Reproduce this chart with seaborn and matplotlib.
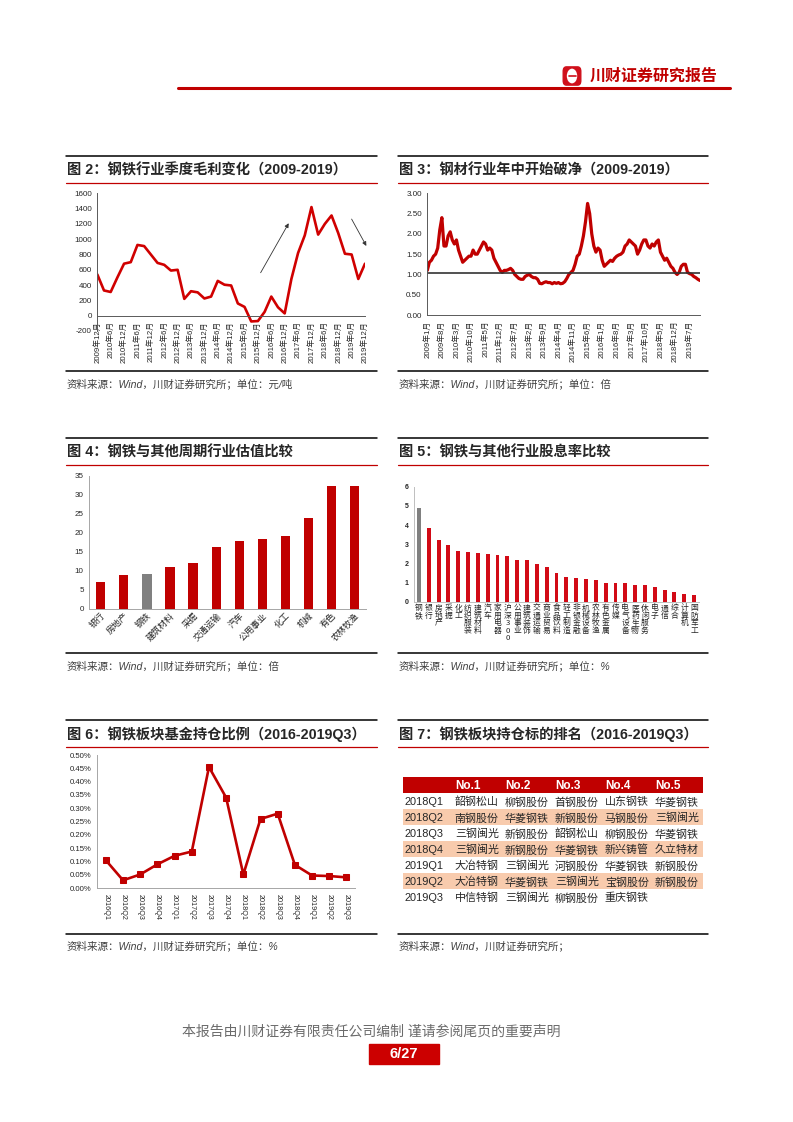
"""Steel sector report page: six panels recreated with seaborn/matplotlib."""

import numpy as np
import seaborn as sns
import matplotlib.pyplot as plt
from matplotlib.lines import Line2D
from matplotlib.patches import Rectangle, FancyBboxPatch, Circle
from matplotlib.ticker import FuncFormatter

W, H = 793, 1122
RED = '#C00000'

# ---- Figure 2: quarterly gross margin (yuan/ton), 2009Q4 - 2019Q4
margin = [540, 330, 310, 500, 680, 700, 925, 910, 800, 690,
          665, 590, 600, 220, 320, 305, 225, 250, 455, 405,
          395, 160, 115, -75, -70, 50, 250, 110, 30, 480,
          820, 1050, 1420, 1060, 1200, 1310, 1080, 810, 800, 480,
          680]
margin_labels = ['2009年12月', '2010年6月', '2010年12月', '2011年6月', '2011年12月',
                 '2012年6月', '2012年12月', '2013年6月', '2013年12月', '2014年6月',
                 '2014年12月', '2015年6月', '2015年12月', '2016年6月', '2016年12月',
                 '2017年6月', '2017年12月', '2018年6月', '2018年12月', '2019年6月',
                 '2019年12月']

# ---- Figure 3: steel PB, monthly 2009-01 .. 2019-12
pb = [1.10, 1.30, 1.35, 1.45, 1.50, 1.65, 2.10, 2.40, 1.70, 1.70,
      1.95, 2.05, 1.85, 1.75, 1.85, 1.60, 1.45, 1.30, 1.35, 1.40,
      1.45, 1.45, 1.60, 1.50, 1.50, 1.60, 1.70, 1.80, 1.75, 1.60,
      1.65, 1.60, 1.40, 1.30, 1.20, 1.10, 1.05, 1.10, 1.10, 1.12,
      1.15, 1.10, 1.00, 0.95, 0.90, 0.88, 0.88, 0.95, 0.98, 1.00,
      0.95, 0.92, 0.92, 0.88, 0.78, 0.77, 0.80, 0.82, 0.80, 0.80,
      0.77, 0.80, 0.78, 0.80, 0.77, 0.78, 0.82, 0.90, 1.00, 1.05,
      1.10, 1.25, 1.45, 1.50, 1.70, 1.95, 2.30, 2.75, 2.50, 2.00,
      1.70, 1.55, 1.65, 1.60, 1.35, 1.20, 1.25, 1.30, 1.35, 1.32,
      1.40, 1.45, 1.48, 1.50, 1.55, 1.70, 1.75, 1.85, 1.80, 1.75,
      1.70, 1.50, 1.60, 1.75, 1.85, 1.85, 1.70, 1.65, 1.75, 1.70,
      1.80, 1.85, 1.55, 1.45, 1.35, 1.40, 1.30, 1.20, 1.15, 1.05,
      1.00, 1.05, 1.20, 1.25, 1.25, 1.05, 1.02, 1.00, 0.95, 0.92,
      0.88, 0.85]
pb_labels = ['2009年1月', '2009年8月', '2010年3月', '2010年10月', '2011年5月',
             '2011年12月', '2012年7月', '2013年2月', '2013年9月', '2014年4月',
             '2014年11月', '2015年6月', '2016年1月', '2016年8月', '2017年3月',
             '2017年10月', '2018年5月', '2018年12月', '2019年7月']
pb_line = 1.04

# ---- Figure 4: PE of cyclical sectors
pe_sectors = ['银行', '房地产', '钢铁', '建筑材料', '采掘', '交通运输',
              '汽车', '公用事业', '化工', '机械', '有色', '农林牧渔']
pe_values = [7.0, 8.8, 9.1, 11.0, 12.1, 16.4, 17.8, 18.3, 19.1, 24.0, 32.4, 32.4]

# ---- Figure 5: dividend yield by sector (%)
dy_sectors = ['钢铁', '银行', '房地产', '采掘', '化工', '纺织服装', '建筑材料',
              '汽车', '家用电器', '沪深300', '公用事业', '建筑装饰', '交通运输',
              '商业贸易', '食品饮料', '轻工制造', '非银金融', '机械设备', '农林牧渔',
              '有色金属', '传媒', '电气设备', '医药生物', '休闲服务', '电子',
              '通信', '综合', '计算机', '国防军工']
dy_values = [4.90, 3.85, 3.20, 2.97, 2.63, 2.57, 2.53, 2.48, 2.42, 2.38,
             2.20, 2.15, 1.95, 1.80, 1.52, 1.28, 1.23, 1.18, 1.12, 1.00,
             1.00, 0.97, 0.85, 0.85, 0.75, 0.60, 0.50, 0.40, 0.35]

# ---- Figure 6: fund holding ratio (%)
fund_quarters = ['2016Q1', '2016Q2', '2016Q3', '2016Q4', '2017Q1', '2017Q2',
                 '2017Q3', '2017Q4', '2018Q1', '2018Q2', '2018Q3', '2018Q4',
                 '2019Q1', '2019Q2', '2019Q3']
fund_ratio = [0.105, 0.030, 0.052, 0.090, 0.122, 0.138, 0.455, 0.340,
              0.052, 0.260, 0.280, 0.088, 0.048, 0.046, 0.041]

# ---- Figure 7: top holdings table
rank_headers = ['No.1', 'No.2', 'No.3', 'No.4', 'No.5']
rank_quarters = ['2018Q1', '2018Q2', '2018Q3', '2018Q4', '2019Q1', '2019Q2', '2019Q3']
rank1 = ['韶钢松山', '南钢股份', '三钢闽光', '三钢闽光', '大冶特钢', '大冶特钢', '中信特钢']
rank2 = ['柳钢股份', '华菱钢铁', '新钢股份', '新钢股份', '三钢闽光', '华菱钢铁', '三钢闽光']
rank3 = ['首钢股份', '新钢股份', '韶钢松山', '华菱钢铁', '河钢股份', '三钢闽光', '柳钢股份']
rank4 = ['山东钢铁', '马钢股份', '柳钢股份', '新兴铸管', '华菱钢铁', '宝钢股份', '重庆钢铁']
rank5 = ['华菱钢铁', '三钢闽光', '华菱钢铁', '久立特材', '新钢股份', '新钢股份', '']

sns.set_theme(style="white")
plt.rcParams['font.family'] = ['Liberation Sans', 'Noto Sans CJK SC', 'DejaVu Sans']
plt.rcParams['axes.unicode_minus'] = False

fig = plt.figure(figsize=(W / 100, H / 100), dpi=100)


def add_ax(x0, y0, x1, y1):
    """Axes from page pixel box (top-left origin)."""
    ax = fig.add_axes([x0 / W, 1 - y1 / H, (x1 - x0) / W, (y1 - y0) / H])
    ax.patch.set_alpha(0)
    return ax


def hline(y, x0, x1, color, lw):
    fig.add_artist(Line2D([x0 / W, x1 / W], [1 - y / H] * 2, color=color, lw=lw))


def ftext(x, y, s, **kw):
    fig.text(x / W, 1 - y / H, s, **kw)


def panel_frame(x0, x1, y_top, y_bottom, title, source):
    hline(y_top, x0, x1, 'black', 1.1)
    ftext(x0 + 1, y_top + 14.5, title, fontsize=10.3, fontweight='bold', va='center')
    hline(y_top + 27, x0, x1, RED, 0.9)
    hline(y_bottom, x0, x1, 'black', 1.1)
    ftext(x0 + 1, y_bottom + 12.5, source, fontsize=7.6, style='italic',
          color='#404040', va='center')


def style_axes(ax, color='#595959'):
    for side in ['top', 'right']:
        ax.spines[side].set_visible(False)
    for side in ['left', 'bottom']:
        ax.spines[side].set_color(color)
        ax.spines[side].set_linewidth(0.7)
    ax.tick_params(length=2.5, width=0.6, color=color, direction='out', pad=1.5)
    ax.grid(False)


# ---------------- header / footer
hline(88, 178, 730, RED, 2.2)
fig.add_artist(FancyBboxPatch((564 / W, 1 - 84 / H), 16 / W, 16 / H,
                              boxstyle='round,pad=0.001,rounding_size=0.004',
                              transform=fig.transFigure, color='#D0101B'))
fig.add_artist(Circle((572 / W, 1 - 76 / H), 5.2 / W, transform=fig.transFigure,
                      facecolor='white', edgecolor='none'))
fig.add_artist(Line2D([568.5 / W, 575.5 / W], [1 - 76 / H] * 2, color='#D0101B', lw=1.2))
ftext(590, 76, '川财证券研究报告', fontsize=11.5, fontweight='bold', color=RED, va='center')

ftext(371.5, 1032, '本报告由川财证券有限责任公司编制 谨请参阅尾页的重要声明',
      fontsize=10, color='#6b6b6b', ha='center', va='center')
fig.add_artist(Rectangle((369 / W, 1 - 1064 / H), 70 / W, 20 / H,
                         transform=fig.transFigure, color='#CC0000'))
ftext(404, 1054, '6/27', fontsize=10.5, fontweight='bold', color='white',
      ha='center', va='center')

# ---------------- Figure 2
panel_frame(66, 377, 156, 371, '图 2：钢铁行业季度毛利变化（2009-2019）',
            '资料来源：Wind，川财证券研究所；单位：元/吨')
ax = add_ax(97.3, 193.3, 365, 331)
sns.lineplot(x=np.arange(len(margin)), y=margin, ax=ax, color='#D00000', lw=1.9)
ax.set_xlim(0, len(margin) - 1)
ax.set_ylim(-200, 1600)
ax.set_yticks(range(-200, 1601, 200))
style_axes(ax)
ax.spines['bottom'].set_position(('data', 0))
ax.set_xticks(range(0, len(margin), 2))
ax.set_xticklabels(margin_labels, rotation=90, fontsize=5.6)
ax.tick_params(axis='y', labelsize=5.8)
ax.annotate('', xy=(28.8, 1240), xytext=(24.2, 530), annotation_clip=False,
            arrowprops=dict(arrowstyle='-|>', color='#333333', lw=0.6, mutation_scale=6))
ax.annotate('', xy=(40.4, 880), xytext=(37.8, 1295), annotation_clip=False,
            arrowprops=dict(arrowstyle='-|>', color='#333333', lw=0.6, mutation_scale=6))

# ---------------- Figure 3
panel_frame(398, 708, 156, 371, '图 3：钢材行业年中开始破净（2009-2019）',
            '资料来源：Wind，川财证券研究所；单位：倍')
ax = add_ax(427.3, 193.3, 700, 315)
sns.lineplot(x=np.arange(len(pb)), y=pb, ax=ax, color=RED, lw=2.3)
ax.axhline(pb_line, color='#333333', lw=1.2)
ax.set_xlim(0, len(pb) - 1)
ax.set_ylim(0, 3)
ax.set_yticks(np.arange(0, 3.01, 0.5))
ax.yaxis.set_major_formatter(FuncFormatter(lambda v, p: f'{v:.2f}'))
style_axes(ax)
ax.set_xticks(range(0, len(pb), 7))
ax.set_xticklabels(pb_labels, rotation=90, fontsize=5.6)
ax.tick_params(axis='y', labelsize=5.8)

# ---------------- Figure 4
panel_frame(66, 377, 438, 653, '图 4：钢铁与其他周期行业估值比较',
            '资料来源：Wind，川财证券研究所；单位：倍')
ax = add_ax(89.3, 475.7, 366, 609)
pe_palette = {s: ('#808080' if s == '钢铁' else RED) for s in pe_sectors}
sns.barplot(x=pe_sectors, y=pe_values, hue=pe_sectors, palette=pe_palette,
            legend=False, width=0.4, ax=ax, linewidth=0, saturation=1)
ax.set_xlim(-0.5, len(pe_sectors) - 0.5)
ax.set_ylim(0, 35)
ax.set_yticks(range(0, 36, 5))
style_axes(ax, '#A6A6A6')
ax.set_xticks(np.arange(len(pe_sectors)) + 0.5, minor=True)
ax.tick_params(axis='x', which='major', length=0)
ax.tick_params(axis='x', which='minor', length=2.5, width=0.6, color='#A6A6A6')
ax.set_xticks(range(len(pe_sectors)))
ax.set_xticklabels(pe_sectors, rotation=45, ha='right', rotation_mode='anchor', fontsize=6.3)
ax.tick_params(axis='y', labelsize=5.8)

# ---------------- Figure 5
panel_frame(398, 708, 438, 653, '图 5：钢铁与其他行业股息率比较',
            '资料来源：Wind，川财证券研究所；单位：%')
ax = add_ax(414, 486.7, 699, 601.7)
dy_palette = {s: ('#808080' if s == '钢铁' else '#D20A16') for s in dy_sectors}
sns.barplot(x=dy_sectors, y=dy_values, hue=dy_sectors, palette=dy_palette,
            legend=False, width=0.4, ax=ax, linewidth=0, saturation=1)
ax.set_xlim(-0.5, len(dy_sectors) - 0.5)
ax.set_ylim(0, 6)
ax.set_yticks(range(0, 7))
style_axes(ax, '#BFBFBF')
ax.tick_params(axis='x', length=0, pad=2)
ax.set_xticks(range(len(dy_sectors)))
# stacked vertical labels, one character per line
ax.set_xticklabels(['\n'.join(s) for s in dy_sectors], fontsize=5.6,
                   family=['Noto Sans CJK SC'], linespacing=0.9,
                   va='top', ha='center', multialignment='center')
ax.tick_params(axis='y', labelsize=5)
for t in ax.get_yticklabels():
    t.set_fontweight('bold')

# ---------------- Figure 6
panel_frame(66, 377, 719.5, 933.5, '图 6：钢铁板块基金持仓比例（2016-2019Q3）',
            '资料来源：Wind，川财证券研究所；单位：%')
ax = add_ax(97.3, 755, 355, 888.3)
sns.lineplot(x=np.arange(len(fund_ratio)), y=fund_ratio, ax=ax, color=RED, lw=1.9,
             marker='s', markersize=4.5, markeredgecolor=RED)
ax.set_xlim(-0.5, len(fund_ratio) - 0.5)
ax.set_ylim(0, 0.5)
ax.set_yticks(np.arange(0, 0.501, 0.05))
ax.yaxis.set_major_formatter(FuncFormatter(lambda v, p: f'{v:.2f}%'))
style_axes(ax, '#A6A6A6')
ax.set_xticks(np.arange(len(fund_ratio)) + 0.5, minor=True)
ax.tick_params(axis='x', which='major', length=0, pad=4)
ax.tick_params(axis='x', which='minor', length=3, width=0.6, color='#A6A6A6')
ax.set_xticks(range(len(fund_quarters)))
ax.set_xticklabels(fund_quarters, rotation=-90, fontsize=5.2)
ax.tick_params(axis='y', labelsize=5.6)

# ---------------- Figure 7
panel_frame(398, 708, 719.5, 933.5, '图 7：钢铁板块持仓标的排名（2016-2019Q3）',
            '资料来源：Wind，川财证券研究所；')
ax = add_ax(403.3, 777.3, 703.3, 905.3)
ax.set_xlim(0, 6)
ax.set_ylim(8, 0)
ax.axis('off')
ax.axhspan(0, 1, color=RED, lw=0)
for i in range(1, len(rank_quarters), 2):
    ax.axhspan(i + 1, i + 2, color='#F8CBAD', lw=0)
for j, h in enumerate(rank_headers):
    ax.text(j + 1.03, 0.55, h, color='white', fontweight='bold', fontsize=8.5, va='center')
columns = [rank_quarters, rank1, rank2, rank3, rank4, rank5]
for j, col in enumerate(columns):
    for i, v in enumerate(col):
        ax.text(j + 0.03, i + 1.55, v, fontsize=7.9, color='#262626', va='center')

fig.savefig('out.png', dpi=100)
